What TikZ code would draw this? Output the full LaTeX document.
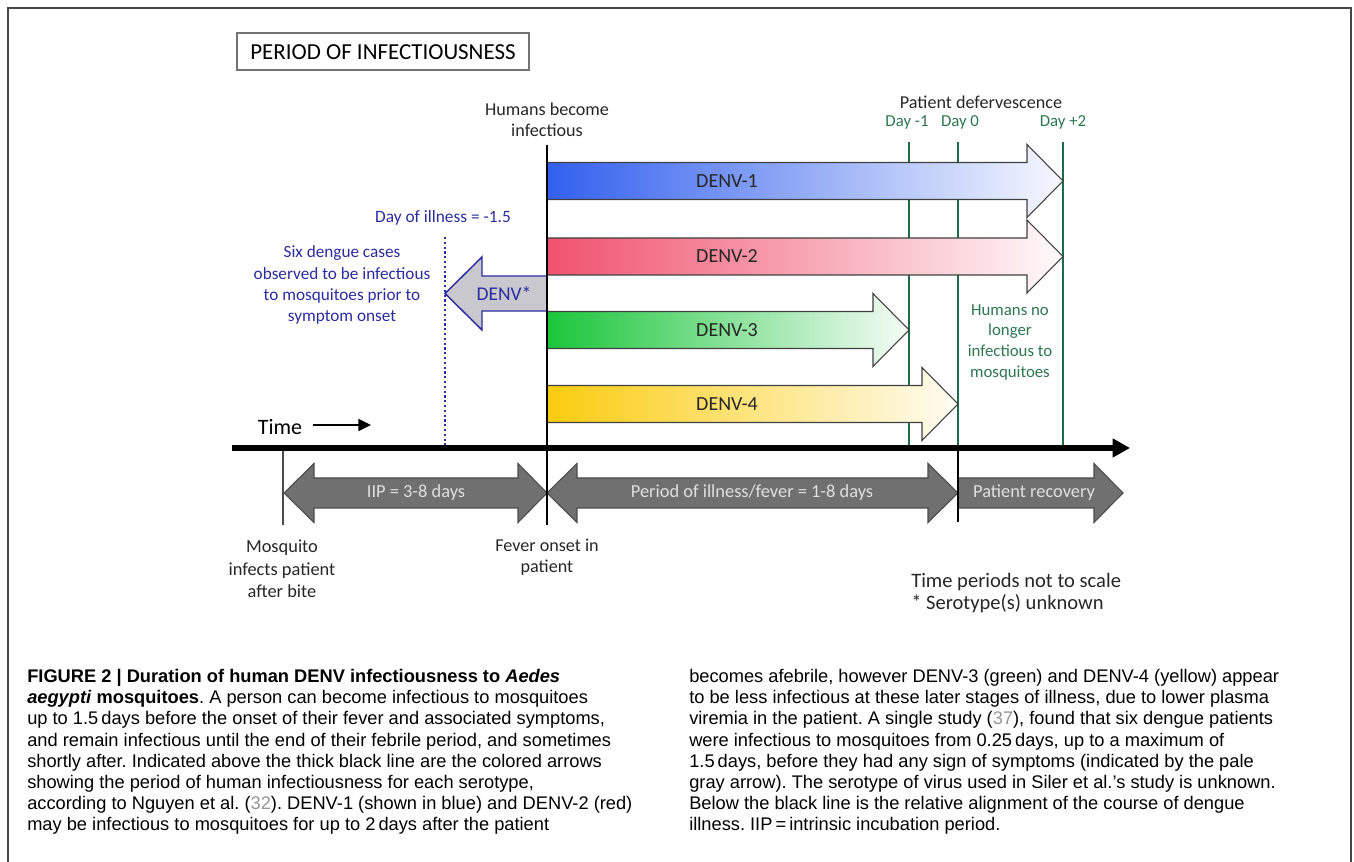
\documentclass[tikz,border=0pt]{standalone}
\usepackage{fontspec}
\setmainfont{Carlito}
\newfontfamily\capfont{Liberation Sans}
\usetikzlibrary{arrows.meta}

\definecolor{denvone}{RGB}{50,96,238}
\definecolor{denvtwo}{RGB}{240,82,110}
\definecolor{denvthree}{RGB}{26,198,58}
\definecolor{denvfour}{RGB}{250,204,14}
\definecolor{dayline}{RGB}{28,108,74}
\definecolor{daytext}{RGB}{46,118,80}
\definecolor{navytext}{RGB}{44,44,160}
\definecolor{periodgray}{RGB}{112,112,112}
\definecolor{refgray}{RGB}{150,150,150}

\tikzset{
  lbl/.style={inner sep=0pt, align=center, text=black!85, font=\fontsize{13.6}{15.5}\selectfont},
  serolbl/.style={inner sep=0pt, text=black!85, font=\fontsize{15}{17}\selectfont},
  periodlbl/.style={inner sep=0pt, text=black!12, font=\fontsize{13.8}{16}\selectfont},
  serotype/.style={draw=black!75, line width=0.8},
  periodarrow/.style={draw=black!70, line width=0.8, fill=periodgray},
  capline/.style={inner sep=0pt, align=left, anchor=north west, font=\capfont\fontsize{13.7}{15.9}\selectfont\frenchspacing}
}

\begin{document}
\begin{tikzpicture}[x=0.75pt,y=0.75pt,yscale=-1,xscale=1]
\useasboundingbox (0,0) rectangle (1354,862);

%Shape: frame
\draw [color={rgb, 255:red, 70; green, 70; blue, 70 }, line width=1.1] (8,862) -- (8,8) -- (1351,8) -- (1351,862) ;

%Shape: title box
\draw [color=black!55, line width=0.9] (237,33) rectangle (529,70) ;
\node (title) at (383,52) [inner sep=0pt, font=\fontsize{17.2}{20}\selectfont] {PERIOD OF INFECTIOUSNESS};

% Points on the time line
\coordinate (infTop) at (547,145);
\coordinate (onsetBot) at (547,525);
\coordinate (biteAxis) at (283,450);
\coordinate (biteBot) at (283,525);
\coordinate (illTop) at (445,237);
\coordinate (illAxis) at (445,448);
\coordinate (dmoneTop) at (909,142);
\coordinate (dmoneAxis) at (909,448);
\coordinate (dzeroTop) at (958,142);
\coordinate (dzeroAxis) at (958,448);
\coordinate (dzeroBot) at (958,522);
\coordinate (dptwoTop) at (1063,142);
\coordinate (dptwoAxis) at (1063,448);
\coordinate (axisStart) at (232,448);
\coordinate (axisEnd) at (1130,448);
\coordinate (timeStart) at (313,425);
\coordinate (timeEnd) at (371,425);

%Straight Lines: defervescence days
\draw [dayline, line width=1.6] (dmoneTop) -- (dmoneAxis) ;
\draw [dayline, line width=1.6] (dzeroTop) -- (dzeroAxis) ;
\draw [dayline, line width=1.6] (dptwoTop) -- (dptwoAxis) ;

%Straight Lines: day of illness -1.5
\draw [navytext, line width=1.6, dotted] (illTop) -- (illAxis) ;

%Shape: Arrow DENV-1
\path [serotype, left color=denvone, right color=denvone!4] (547,162.5) -- (1027,162.5) -- (1027,144.5) -- (1063,181) -- (1027,217.5) -- (1027,199.5) -- (547,199.5) -- cycle ;
%Shape: Arrow DENV-2
\path [serotype, left color=denvtwo, right color=denvtwo!3] (547,238) -- (1027,238) -- (1027,220) -- (1063,256.5) -- (1027,293) -- (1027,275) -- (547,275) -- cycle ;
%Shape: Arrow DENV-3
\path [serotype, left color=denvthree, right color=denvthree!4] (547,311.5) -- (873,311.5) -- (873,293.5) -- (909,330) -- (873,366.5) -- (873,348.5) -- (547,348.5) -- cycle ;
%Shape: Arrow DENV-4
\path [serotype, left color=denvfour, right color=denvfour!5] (547,385.5) -- (922,385.5) -- (922,367.5) -- (958,404) -- (922,440.5) -- (922,422.5) -- (547,422.5) -- cycle ;
%Shape: Arrow DENV*
\path [draw=navytext, line width=1.1, fill={rgb, 255:red, 200; green, 200; blue, 206 }] (547,276) -- (482,276) -- (482,257) -- (445,293.5) -- (482,330) -- (482,311) -- (547,311) -- cycle ;

%Shape: Arrow IIP
\path [periodarrow] (284,493) -- (314,463.5) -- (314,478) -- (518,478) -- (518,463.5) -- (547,493) -- (518,522.5) -- (518,508) -- (314,508) -- (314,522.5) -- cycle ;
%Shape: Arrow illness
\path [periodarrow] (547,493) -- (577,463.5) -- (577,478) -- (928,478) -- (928,463.5) -- (958,493) -- (928,522.5) -- (928,508) -- (577,508) -- (577,522.5) -- cycle ;
%Shape: Arrow recovery
\path [periodarrow] (958,478) -- (1094,478) -- (1094,463.5) -- (1123,493) -- (1094,522.5) -- (1094,508) -- (958,508) -- cycle ;

%Straight Lines: onset, bite, defervescence
\draw [line width=1.9] (infTop) -- (onsetBot) ;
\draw [line width=1.9] (dzeroAxis) -- (dzeroBot) ;
\draw [color=black!70, line width=1.1] (biteAxis) -- (biteBot) ;

%Straight Lines: time axis
\draw [line width=4.2, -{Triangle[length=13pt,width=13.5pt]}] (axisStart) -- (axisEnd) ;
\draw [line width=1.6, -{Triangle[length=9.5pt,width=9pt]}] (timeStart) -- (timeEnd) ;

% Text Node
\node (humans) at (547,120) [lbl] {Humans become\\infectious};
\node (defer) at (981,102) [lbl] {Patient defervescence};
\node (dmone) at (907,122) [lbl, text=daytext, font=\fontsize{12.6}{15}\selectfont] {Day -1};
\node (dzero) at (960,122) [lbl, text=daytext, font=\fontsize{12.6}{15}\selectfont] {Day 0};
\node (dptwo) at (1063,122) [lbl, text=daytext, font=\fontsize{12.6}{15}\selectfont] {Day +2};
\node (dayill) at (443,218) [lbl, text=navytext, font=\fontsize{13}{15}\selectfont] {Day of illness = -1.5};
\node (sixcases) at (342,285) [lbl, text=navytext, font=\fontsize{12.9}{15.8}\selectfont] {Six dengue cases\\observed to be infectious\\to mosquitoes prior to\\symptom onset};
\node (nolonger) at (1010,342) [lbl, text=daytext, font=\fontsize{12.6}{15.5}\selectfont] {Humans no\\longer\\infectious to\\mosquitoes};
\node (time) at (280,427) [lbl, text=black, font=\fontsize{16.5}{18}\selectfont] {Time};

\node (denvone) at (727,181) [serolbl] {DENV-1};
\node (denvtwo) at (727,256.5) [serolbl] {DENV-2};
\node (denvthree) at (727,330) [serolbl] {DENV-3};
\node (denvfour) at (727,404) [serolbl] {DENV-4};
\node (denvstar) at (504,293.5) [serolbl, text=navytext, font=\fontsize{14.6}{17}\selectfont] {DENV*};

\node (iip) at (416,493) [periodlbl] {IIP = 3-8 days};
\node (illness) at (752,493) [periodlbl] {Period of illness/fever = 1-8 days};
\node (recovery) at (1034,493) [periodlbl] {Patient recovery};

\node (mosquito) at (282,569) [lbl, font=\fontsize{13.8}{17}\selectfont] {Mosquito\\infects patient\\after bite};
\node (fever) at (547,557) [lbl] {Fever onset in\\patient};
\node (notes) at (911,593) [lbl, anchor=west, align=left, font=\fontsize{15.4}{16.5}\selectfont] {Time periods not to scale\\* Serotype(s) unknown};

% Caption
\node (capleft) at (27,669) [capline] {\textbf{FIGURE 2 | Duration of human DENV infectiousness to \textit{Aedes}}\\
\textbf{\textit{aegypti} mosquitoes}. A person can become infectious to mosquitoes\\
up to 1.5\,days before the onset of their fever and associated symptoms,\\
and remain infectious until the end of their febrile period, and sometimes\\
shortly after. Indicated above the thick black line are the colored arrows\\
showing the period of human infectiousness for each serotype,\\
according to Nguyen et al. (\textcolor{refgray}{32}). DENV-1 (shown in blue) and DENV-2 (red)\\
may be infectious to mosquitoes for up to 2\,days after the patient};
\node (capright) at (689,669) [capline] {becomes afebrile, however DENV-3 (green) and DENV-4 (yellow) appear\\
to be less infectious at these later stages of illness, due to lower plasma\\
viremia in the patient. A single study (\textcolor{refgray}{37}), found that six dengue patients\\
were infectious to mosquitoes from 0.25\,days, up to a maximum of\\
1.5\,days, before they had any sign of symptoms (indicated by the pale\\
gray arrow). The serotype of virus used in Siler et al.’s study is unknown.\\
Below the black line is the relative alignment of the course of dengue\\
illness. IIP\,=\,intrinsic incubation period.};

\end{tikzpicture}
\end{document}
